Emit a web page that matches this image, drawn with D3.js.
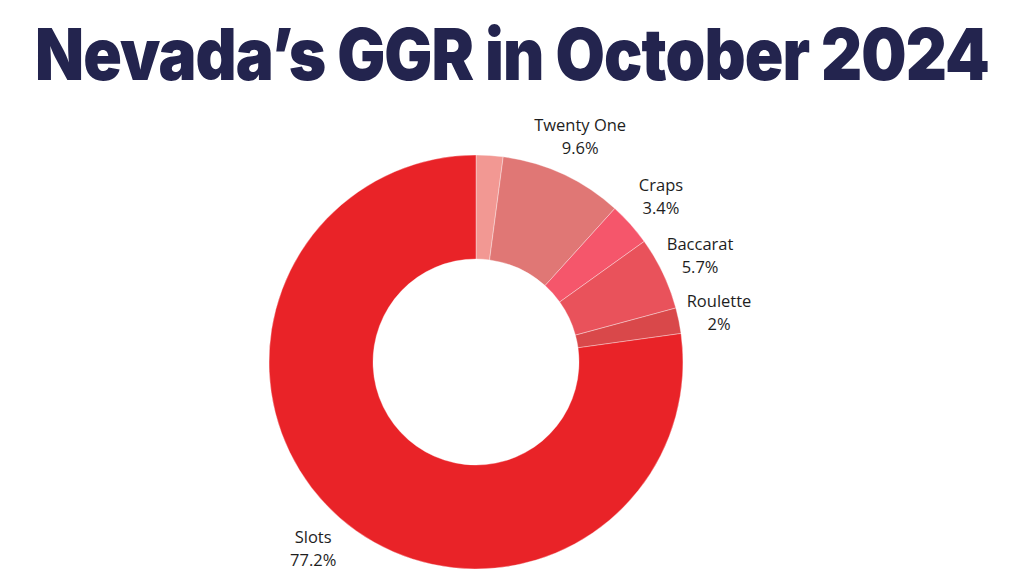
<!DOCTYPE html>
<html>
<head>
<meta charset="utf-8">
<script src="https://cdn.jsdelivr.net/npm/d3@7"></script>
<style>
  body { margin: 0; background: #fff; }
</style>
</head>
<body>
<div id="chart"></div>
<script>
// Données : part du GGR par jeu (%), dans l'ordre horaire depuis midi
const categories = ["Other", "Twenty One", "Craps", "Baccarat", "Roulette", "Slots"];
const shares = [2.1, 9.6, 3.4, 5.7, 2, 77.2];
const labels = ["", "9.6%", "3.4%", "5.7%", "2%", "77.2%"];
const colors = ["#f29893", "#e07775", "#f5566b", "#e9525b", "#d9484a", "#e92328"];

const width = 1024;
const height = 576;

const svg = d3.select("#chart")
    .append("svg")
    .attr("width", width)
    .attr("height", height)
    .style("background-color", "white");

// Titre (compressé horizontalement pour tenir dans ~954px)
const titleG = svg.append("g");
const title = titleG.append("text")
    .attr("x", 0)
    .attr("y", 0)
    .attr("text-anchor", "middle")
    .style("font-family", "Inter, 'Liberation Sans', sans-serif")
    .style("font-size", "72px")
    .style("font-weight", "900")
    .style("letter-spacing", "-1px")
    .style("fill", "#23244e")
    .text("Nevada’s GGR in October 2024");
const natural = title.node().getComputedTextLength();
const sx = 954 / natural;
titleG.attr("transform", "translate(" + (width / 2) + ",80) scale(" + sx + ",1)");

// Donut
const cx = 476, cy = 362;
const pie = d3.pie().sort(null).value(d => d)(shares);
const arc = d3.arc().innerRadius(103).outerRadius(207);
const labelArc = d3.arc().innerRadius(248).outerRadius(248);

const g = svg.append("g").attr("transform", "translate(" + cx + "," + cy + ")");

g.selectAll("path")
    .data(pie)
    .enter()
    .append("path")
    .attr("d", arc)
    .attr("fill", (d, i) => colors[i])
    .attr("stroke", "rgba(255,255,255,0.35)")
    .attr("stroke-width", 1);

// Libellés : nom + pourcentage
const lab = g.selectAll("g.lab")
    .data(pie.filter((d, i) => labels[i] !== ""))
    .enter()
    .append("g")
    .attr("class", "lab")
    .attr("transform", d => "translate(" + labelArc.centroid(d) + ")");

lab.append("text")
    .attr("y", -11.5)
    .attr("dy", ".35em")
    .attr("text-anchor", "middle")
    .style("font-family", "'Open Sans', 'Noto Sans', sans-serif")
    .style("font-size", "16.5px")
    .style("fill", "#1e1e1e")
    .text(d => categories[d.index]);

lab.append("text")
    .attr("y", 11.5)
    .attr("dy", ".35em")
    .attr("text-anchor", "middle")
    .style("font-family", "'Open Sans', 'Noto Sans', sans-serif")
    .style("font-size", "16.5px")
    .style("fill", "#1e1e1e")
    .text(d => labels[d.index]);
</script>
</body>
</html>
